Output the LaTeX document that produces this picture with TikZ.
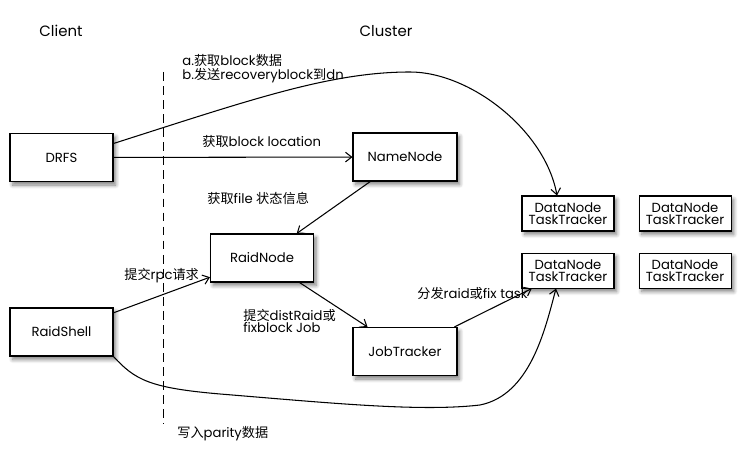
\documentclass[tikz,border=0pt]{standalone}
\usepackage{fontspec}
\setmainfont{Poppins}
\newfontfamily\cjk{Noto Sans CJK SC}
\usetikzlibrary{
  positioning,
  arrows.meta,
  shadows.blur
}

\begin{document}
\begin{tikzpicture}[
  node distance=0.42cm and 0.48cm,
  every node/.style={font=\fontsize{7.5}{7}\selectfont},
  box/.style={draw, rectangle, fill=white, line width=0.6pt, minimum width=2.06cm, minimum height=0.96cm, align=center, inner sep=0pt,
    blur shadow={shadow xshift=1.5pt, shadow yshift=-2pt, shadow blur steps=6, shadow opacity=50}},
  smallbox/.style={box, minimum width=1.84cm, minimum height=0.70cm},
  note/.style={anchor=base west, inner sep=0pt},
  title/.style={font=\fontsize{8.5}{9}\selectfont},
  arrow/.style={line width=0.6pt, -{Straight Barb[length=3.5pt, width=5.5pt]}}
]
\useasboundingbox (0,0) rectangle (14.94,9.30);

% Titles
\node[title] (client) at (1.22,8.68) {Client};
\node[title] (cluster) at (7.72,8.68) {Cluster};

% Separator
\draw[line width=0.5pt, dash pattern=on 5pt off 3pt] (3.26,7.86) -- (3.26,0.82);

% Nodes
\node[box] (drfs) at (1.23,6.15) {DRFS};
\node[box] (raidshell) at (1.23,2.66) {RaidShell};
\node[box, minimum width=2.08cm] (namenode) at (8.10,6.16) {NameNode};
\node[box] (raidnode) at (5.24,4.14) {RaidNode};
\node[box, minimum width=2.08cm] (jobtracker) at (8.10,2.27) {JobTracker};
\node[smallbox] (dn1) at (11.36,5.03) {DataNode\\TaskTracker};
\node[smallbox, right=of dn1] (dn2) {DataNode\\TaskTracker};
\node[smallbox, below=of dn1] (dn3) {DataNode\\TaskTracker};
\node[smallbox, right=of dn3] (dn4) {DataNode\\TaskTracker};

% Labels
\node[note] (getdata) at (3.64,7.99) {a.{\cjk 获取}block{\cjk 数据}};
\node[note] (sendrec) at (3.64,7.71) {b.{\cjk 发送}recoveryblock{\cjk 到}dn};
\node[note] (getloc) at (4.04,6.36) {{\cjk 获取}block location};
\node[note] (getstat) at (4.14,5.22) {{\cjk 获取}file {\cjk 状态信息}};
\node[note] (rpc) at (2.48,3.70) {{\cjk 提交}rpc{\cjk 请求}};
\node[note] (submit) at (4.86,2.88) {{\cjk 提交}distRaid{\cjk 或}};
\node[note] (submitb) at (4.86,2.64) {fixblock Job};
\node[note] (dispatch) at (8.34,3.32) {{\cjk 分发}raid{\cjk 或}fix task};
\node[note] (parity) at (3.54,0.54) {{\cjk 写入}parity{\cjk 数据}};

% Arrows
\draw[arrow] (drfs) -- (namenode);
\draw[arrow] (namenode) -- (raidnode);
\draw[arrow] (raidshell) -- (raidnode);
\draw[arrow] (raidnode) -- (jobtracker);
\draw[arrow] (jobtracker) -- (dn3);
\draw[arrow] ([yshift=0.28cm]drfs.east) .. controls (5.00,7.30) and (6.60,7.86) .. (8.20,7.86)
  .. controls (9.40,7.86) and (10.90,6.70) .. ([xshift=-0.22cm]dn1.north);
\draw[arrow] (raidshell.south east) .. controls (2.70,1.70) and (3.00,1.54) .. (4.40,1.42)
  .. controls (6.60,1.24) and (8.40,1.06) .. (9.60,1.20)
  .. controls (10.60,1.40) and (10.90,2.70) .. ([xshift=-0.24cm]dn3.south);

\end{tikzpicture}
\end{document}
